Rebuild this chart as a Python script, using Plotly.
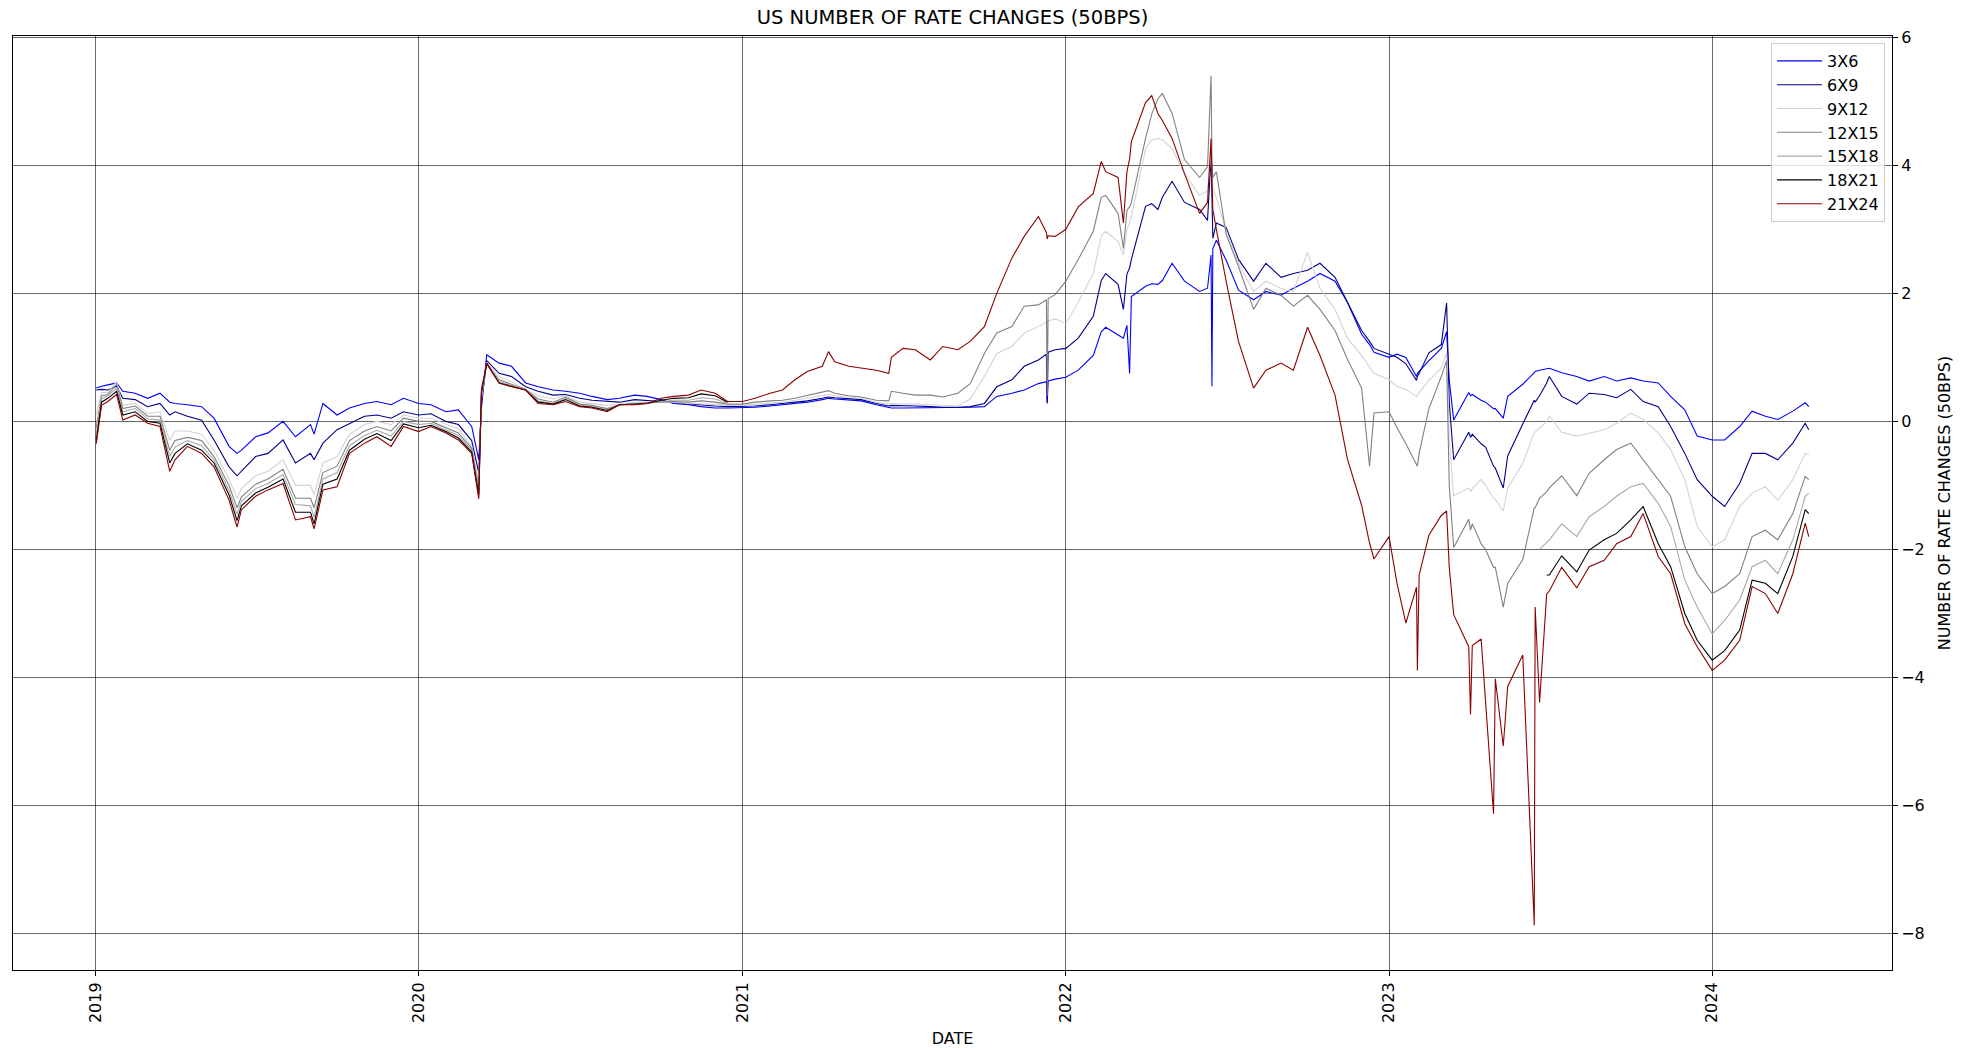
import plotly.graph_objects as go

# ---------------- data ----------------
DATES_2019 = ["2019-01-02","2019-01-08","2019-01-15","2019-01-25","2019-02-01","2019-02-15","2019-03-01",
              "2019-03-15","2019-03-26","2019-04-01","2019-04-15","2019-05-01","2019-05-15","2019-06-01",
              "2019-06-10","2019-06-15","2019-07-01","2019-07-15","2019-08-01","2019-08-15","2019-09-01",
              "2019-09-05","2019-09-15","2019-10-01","2019-10-15","2019-11-01","2019-11-15","2019-12-01",
              "2019-12-15"]
DATES_2020 = ["2020-01-01","2020-01-15","2020-02-01","2020-02-15","2020-03-01","2020-03-09","2020-03-12",
              "2020-03-18","2020-04-01","2020-04-15","2020-05-01","2020-05-15","2020-06-01","2020-06-15",
              "2020-07-01","2020-07-15","2020-08-01","2020-08-15","2020-09-01","2020-09-15","2020-10-01",
              "2020-10-15","2020-11-01","2020-11-15","2020-12-01","2020-12-15"]
DATES_2021 = ["2021-01-01","2021-01-15","2021-02-01","2021-02-15","2021-03-01","2021-03-15","2021-04-01",
              "2021-04-08","2021-04-15","2021-05-01","2021-05-15","2021-06-01","2021-06-15","2021-06-18",
              "2021-07-01","2021-07-15","2021-08-01","2021-08-15","2021-09-01","2021-09-15","2021-10-01",
              "2021-10-15","2021-11-01","2021-11-15","2021-12-01","2021-12-10","2021-12-11","2021-12-12",
              "2021-12-20"]
DATES_2022 = ["2022-01-01","2022-01-15","2022-02-01","2022-02-10","2022-02-15","2022-03-01","2022-03-07",
              "2022-03-11","2022-03-14","2022-03-16","2022-04-01","2022-04-08","2022-04-15","2022-04-20",
              "2022-05-01","2022-05-15","2022-06-01","2022-06-10","2022-06-14","2022-06-15","2022-06-16",
              "2022-06-20","2022-07-01","2022-07-15","2022-08-01","2022-08-15","2022-09-01","2022-09-15",
              "2022-10-01","2022-10-15","2022-11-01","2022-11-15","2022-12-01","2022-12-10","2022-12-15"]
DATES_2023 = ["2023-01-01","2023-01-10","2023-01-20","2023-02-01","2023-02-02","2023-02-04","2023-02-15",
              "2023-03-01","2023-03-07","2023-03-10","2023-03-15","2023-04-01","2023-04-03","2023-04-05",
              "2023-04-15","2023-04-20","2023-04-29","2023-05-01","2023-05-10","2023-05-15","2023-06-01",
              "2023-06-14","2023-06-15","2023-06-20","2023-06-28","2023-07-01","2023-07-15","2023-08-01",
              "2023-08-15","2023-09-01","2023-09-15","2023-10-01","2023-10-15","2023-11-01","2023-11-15",
              "2023-12-01","2023-12-15"]
DATES_2024 = ["2024-01-01","2024-01-15","2024-02-01","2024-02-15","2024-03-01","2024-03-15","2024-04-01",
              "2024-04-15","2024-04-19"]
DATES = DATES_2019 + DATES_2020 + DATES_2021 + DATES_2022 + DATES_2023 + DATES_2024

S_3X6 = ([0.52, 0.55, 0.57, 0.60, 0.47, 0.44, 0.36, 0.44, 0.30, 0.28, 0.26, 0.23, 0.05, -0.39, -0.50, -0.45,
          -0.24, -0.18, 0.00, -0.24, -0.05, -0.20, 0.28, 0.10, 0.21, 0.28, 0.31, 0.26, 0.36]
         + [0.28, 0.26, 0.15, 0.18, -0.08, -0.60, 0.20, 1.04, 0.91, 0.86, 0.60, 0.54, 0.49, 0.47, 0.44, 0.39,
            0.34, 0.36, 0.41, 0.39, 0.34, 0.28, 0.26, 0.23, 0.21, 0.21]
         + [0.21, 0.22, 0.24, 0.26, 0.28, 0.30, 0.34, 0.36, 0.35, 0.34, 0.32, 0.26, 0.21, 0.21, 0.21, 0.21,
            0.21, 0.21, 0.21, 0.22, 0.23, 0.39, 0.44, 0.49, 0.59, 0.62, 0.28, 0.63, 0.66]
         + [0.69, 0.80, 1.03, 1.40, 1.47, 1.35, 1.30, 1.50, 0.75, 1.95, 2.11, 2.15, 2.14, 2.20, 2.47, 2.19,
            2.03, 2.08, 2.60, 0.55, 2.70, 2.83, 2.52, 2.05, 1.90, 2.03, 1.97, 2.08, 2.19, 2.31, 2.19, 1.86,
            1.36, 1.20, 1.08]
         + [1.00, 1.05, 1.00, 0.70, 0.75, 0.78, 0.95, 1.14, 1.40, 0.64, 0.02, 0.45, 0.40, 0.42, 0.33, 0.30,
            0.20, 0.20, 0.05, 0.39, 0.58, 0.76, 0.78, 0.80, 0.83, 0.83, 0.76, 0.70, 0.63, 0.70, 0.63, 0.68,
            0.63, 0.60, 0.39, 0.18, -0.23]
         + [-0.29, -0.29, -0.08, 0.16, 0.08, 0.03, 0.16, 0.29, 0.23])

S_6X9 = ([0.49, 0.50, 0.49, 0.55, 0.36, 0.34, 0.23, 0.28, 0.10, 0.15, 0.08, 0.02, -0.29, -0.71, -0.85, -0.78,
          -0.55, -0.50, -0.29, -0.65, -0.50, -0.60, -0.34, -0.13, -0.03, 0.08, 0.10, 0.05, 0.15]
         + [0.10, 0.12, 0.00, -0.05, -0.30, -0.80, 0.30, 0.95, 0.75, 0.70, 0.54, 0.47, 0.41, 0.42, 0.36, 0.33,
            0.31, 0.30, 0.34, 0.33, 0.31, 0.29, 0.27, 0.25, 0.24, 0.23]
         + [0.23, 0.24, 0.26, 0.28, 0.30, 0.32, 0.36, 0.38, 0.37, 0.36, 0.34, 0.28, 0.24, 0.25, 0.25, 0.24,
            0.23, 0.22, 0.22, 0.23, 0.28, 0.54, 0.65, 0.86, 0.96, 1.05, 0.30, 1.08, 1.12]
         + [1.14, 1.30, 1.64, 2.20, 2.31, 2.14, 1.75, 2.30, 2.40, 2.53, 3.36, 3.40, 3.31, 3.50, 3.75, 3.42,
            3.31, 3.14, 4.14, 3.50, 2.86, 3.10, 3.03, 2.53, 2.19, 2.47, 2.25, 2.31, 2.36, 2.47, 2.25, 1.86,
            1.42, 1.25, 1.14]
         + [1.05, 1.00, 0.90, 0.64, 0.70, 0.75, 1.07, 1.20, 1.85, 0.30, -0.60, -0.17, -0.25, -0.20, -0.35,
            -0.40, -0.70, -0.73, -1.04, -0.54, -0.04, 0.33, 0.30, 0.40, 0.60, 0.70, 0.39, 0.27, 0.44, 0.42,
            0.37, 0.50, 0.31, 0.23, -0.08, -0.50, -0.91]
         + [-1.17, -1.33, -0.97, -0.50, -0.50, -0.60, -0.34, -0.03, -0.13])

S_9X12 = ([0.10, 0.45, 0.45, 0.62, 0.25, 0.28, 0.12, 0.15, -0.30, -0.15, -0.15, -0.20, -0.45, -0.90, -1.20,
           -1.05, -0.85, -0.78, -0.60, -1.00, -1.00, -1.15, -0.65, -0.55, -0.20, -0.05, 0.00, -0.05, 0.10]
          + [0.05, 0.05, -0.05, -0.12, -0.38, -0.95, 0.35, 0.92, 0.70, 0.62, 0.50, 0.40, 0.35, 0.40, 0.30,
             0.28, 0.25, 0.27, 0.30, 0.30, 0.30, 0.30, 0.28, 0.28, 0.27, 0.25]
          + [0.25, 0.27, 0.29, 0.30, 0.33, 0.36, 0.40, 0.42, 0.40, 0.38, 0.36, 0.30, 0.27, 0.28, 0.28, 0.27,
             0.26, 0.25, 0.24, 0.35, 0.70, 1.06, 1.17, 1.38, 1.48, 1.55, 1.00, 1.57, 1.60]
          + [1.53, 1.86, 2.31, 2.90, 2.97, 2.81, 2.60, 3.00, 3.10, 3.20, 4.26, 4.40, 4.42, 4.40, 4.26, 3.87,
             3.53, 3.60, 4.20, 3.90, 3.64, 3.50, 2.97, 2.47, 2.03, 2.19, 2.08, 2.03, 2.64, 2.08, 1.75, 1.30,
             1.03, 0.85, 0.75]
          + [0.65, 0.55, 0.50, 0.39, 0.40, 0.45, 0.64, 0.83, 1.07, -0.30, -1.16, -1.04, -1.10, -1.05, -0.91,
             -1.00, -1.20, -1.22, -1.40, -1.04, -0.66, -0.17, -0.17, -0.10, 0.00, 0.08, -0.17, -0.23, -0.18,
             -0.13, -0.03, 0.13, 0.03, -0.18, -0.44, -0.91, -1.64]
          + [-1.96, -1.85, -1.33, -1.12, -1.02, -1.23, -0.91, -0.50, -0.52])

S_12X15 = ([-0.10, 0.40, 0.42, 0.58, 0.20, 0.24, 0.08, 0.08, -0.45, -0.30, -0.25, -0.30, -0.55, -1.00, -1.35,
            -1.18, -0.98, -0.90, -0.75, -1.20, -1.20, -1.35, -0.80, -0.70, -0.30, -0.15, -0.08, -0.15, 0.05]
           + [0.00, 0.00, -0.10, -0.18, -0.42, -1.05, 0.40, 0.90, 0.65, 0.58, 0.50, 0.35, 0.30, 0.38, 0.27,
              0.25, 0.20, 0.26, 0.28, 0.29, 0.30, 0.31, 0.30, 0.32, 0.30, 0.27]
           + [0.27, 0.30, 0.32, 0.33, 0.36, 0.40, 0.45, 0.48, 0.44, 0.40, 0.38, 0.33, 0.32, 0.47, 0.44, 0.41,
              0.41, 0.38, 0.44, 0.59, 1.06, 1.38, 1.48, 1.80, 1.82, 1.90, 0.40, 1.92, 1.98]
           + [2.19, 2.53, 2.97, 3.50, 3.53, 3.25, 2.70, 3.30, 3.35, 3.42, 4.42, 4.80, 5.04, 5.12, 4.81, 4.09,
              3.81, 3.98, 5.40, 4.10, 3.81, 3.90, 2.92, 2.42, 1.75, 2.08, 1.97, 1.80, 1.97, 1.75, 1.42, 0.97,
              0.52, -0.70, 0.13]
           + [0.15, -0.10, -0.35, -0.66, -0.70, -0.50, 0.20, 0.70, 0.95, -1.00, -1.97, -1.53, -1.70, -1.60,
              -1.91, -2.00, -2.28, -2.28, -2.90, -2.53, -2.16, -1.35, -1.35, -1.20, -1.10, -1.04, -0.85, -1.16,
              -0.81, -0.60, -0.44, -0.34, -0.60, -0.91, -1.17, -1.96, -2.38]
           + [-2.69, -2.58, -2.38, -1.80, -1.70, -1.85, -1.44, -0.86, -0.91])

S_15X18 = ([-0.20, 0.35, 0.40, 0.52, 0.15, 0.20, 0.04, 0.02, -0.55, -0.40, -0.30, -0.38, -0.60, -1.08, -1.45,
            -1.25, -1.05, -0.97, -0.83, -1.30, -1.32, -1.50, -0.90, -0.80, -0.38, -0.22, -0.14, -0.23, 0.00]
           + [-0.05, -0.03, -0.13, -0.22, -0.45, -1.10, 0.42, 0.90, 0.62, 0.56, 0.50, 0.32, 0.28, 0.36, 0.25,
              0.23, 0.18, 0.26, 0.27, 0.28, 0.31, 0.33, 0.33, 0.37, 0.35, 0.28]
           + [None] * 29
           + [None] * 35
           + [None] * 23
           + [-2.00, -1.90, -1.85, -1.60, -1.80, -1.49, -1.33, -1.17, -1.02, -0.97, -1.28, -1.64, -2.48, -2.90]
           + [-3.32, -3.11, -2.79, -2.27, -2.17, -2.38, -1.85, -1.17, -1.12])

S_18X21 = ([-0.30, 0.30, 0.36, 0.47, 0.10, 0.15, 0.00, -0.03, -0.65, -0.50, -0.35, -0.45, -0.65, -1.15, -1.55,
            -1.32, -1.12, -1.03, -0.90, -1.42, -1.42, -1.60, -0.98, -0.90, -0.45, -0.28, -0.19, -0.30, -0.04]
           + [-0.10, -0.06, -0.16, -0.26, -0.48, -1.15, 0.45, 0.90, 0.60, 0.55, 0.49, 0.30, 0.27, 0.34, 0.24,
              0.22, 0.17, 0.26, 0.27, 0.28, 0.33, 0.36, 0.37, 0.43, 0.40, 0.30]
           + [None] * 29
           + [None] * 35
           + [None] * 24
           + [-2.40, -2.40, -2.10, -2.35, -2.01, -1.85, -1.75, -1.54, -1.33, -1.91, -2.27, -3.00, -3.42]
           + [-3.73, -3.58, -3.26, -2.48, -2.53, -2.69, -2.11, -1.38, -1.44])

S_21X24 = ([-0.35, 0.25, 0.31, 0.42, 0.02, 0.10, -0.03, -0.08, -0.78, -0.60, -0.39, -0.50, -0.71, -1.23, -1.65,
            -1.38, -1.17, -1.07, -0.97, -1.54, -1.49, -1.68, -1.07, -1.02, -0.50, -0.34, -0.24, -0.39, -0.08]
           + [-0.16, -0.08, -0.18, -0.29, -0.50, -1.21, 0.50, 0.91, 0.60, 0.54, 0.49, 0.28, 0.26, 0.31, 0.23,
              0.21, 0.15, 0.26, 0.26, 0.28, 0.36, 0.39, 0.41, 0.49, 0.44, 0.31]
           + [0.31, 0.36, 0.44, 0.49, 0.65, 0.78, 0.86, 1.09, 0.93, 0.86, 0.83, 0.80, 0.75, 1.00, 1.14, 1.12,
              0.96, 1.17, 1.12, 1.25, 1.48, 2.00, 2.55, 2.89, 3.20, 2.95, 2.85, 2.90, 2.89]
           + [3.00, 3.35, 3.56, 4.06, 3.90, 3.81, 3.10, 3.90, 4.10, 4.37, 4.98, 5.09, 4.81, 4.70, 4.42, 3.87,
              3.25, 3.42, 4.42, 3.80, 3.31, 3.00, 2.19, 1.25, 0.52, 0.80, 0.91, 0.80, 1.47, 1.03, 0.41, -0.59,
              -1.31, -1.90, -2.15]
           + [-1.80, -2.53, -3.15, -2.59, -3.89, -2.40, -1.78, -1.47, -1.40, -2.28, -3.02, -3.52, -4.58, -3.50,
              -3.40, -4.39, -6.13, -4.02, -5.07, -4.14, -3.65, -7.87, -2.90, -4.39, -2.70, -2.65, -2.28, -2.60,
              -2.27, -2.17, -1.91, -1.80, -1.44, -2.11, -2.38, -3.16, -3.52]
           + [-3.89, -3.73, -3.42, -2.58, -2.69, -3.00, -2.38, -1.59, -1.80])

SERIES_NAMES = ["3X6", "6X9", "9X12", "12X15", "15X18", "18X21", "21X24"]
SERIES_VALUES = [S_3X6, S_6X9, S_9X12, S_12X15, S_15X18, S_18X21, S_21X24]
SERIES_COLORS = ["blue", "darkblue", "lightgray", "gray", "darkgray", "black", "darkred"]

YEAR_TICKS = ["2019-01-01", "2020-01-01", "2021-01-01", "2022-01-01", "2023-01-01", "2024-01-01"]
YEAR_LABELS = ["2019", "2020", "2021", "2022", "2023", "2024"]
Y_TICKS = [-8, -6, -4, -2, 0, 2, 4, 6]

# ---------------- figure ----------------
fig = go.Figure()
for name, vals, col in zip(SERIES_NAMES, SERIES_VALUES, SERIES_COLORS):
    assert len(vals) == len(DATES), name
    fig.add_trace(go.Scatter(x=DATES, y=vals, name=name, mode="lines",
                             line=dict(color=col, width=1.1), connectgaps=False))

GRID = "rgba(0,0,0,0.6)"
FONT = "DejaVu Sans, Verdana, sans-serif"

fig.update_layout(
    width=1962, height=1048,
    margin=dict(l=12.5, r=70, t=36, b=78),
    paper_bgcolor="white", plot_bgcolor="white",
    font=dict(family=FONT, size=16, color="black"),
    title=dict(text="US NUMBER OF RATE CHANGES (50BPS)", x=0.5, xref="paper", xanchor="center",
               y=1 - 17 / 1048, yref="container", yanchor="middle",
               font=dict(family=FONT, size=19.5, color="black")),
    showlegend=True,
    legend=dict(x=0.9963, y=0.9925, xanchor="right", yanchor="top",
                bgcolor="rgba(255,255,255,0.8)", bordercolor="#cccccc", borderwidth=1,
                itemwidth=45,
                font=dict(family=FONT, size=16, color="black"), tracegroupgap=0),
    xaxis=dict(type="date", range=["2018-09-30", "2024-07-22"],
               tickmode="array", tickvals=YEAR_TICKS, ticktext=YEAR_LABELS, tickangle=-90,
               ticks="outside", ticklen=5, tickcolor="black", tickwidth=1,
               showgrid=True, gridcolor=GRID, gridwidth=1,
               showline=True, linecolor="black", linewidth=1, mirror=True, zeroline=False,
               automargin=False,
               title=dict(text="DATE", font=dict(family=FONT, size=16, color="black"), standoff=10)),
    yaxis=dict(side="right", range=[-8.57, 6.02],
               tickmode="array", tickvals=Y_TICKS,
               ticks="outside", ticklen=5, tickcolor="black", tickwidth=1,
               showgrid=True, gridcolor=GRID, gridwidth=1,
               showline=True, linecolor="black", linewidth=1, mirror=True, zeroline=False,
               automargin=False,
               title=dict(text="NUMBER OF RATE CHANGES (50BPS)",
                          font=dict(family=FONT, size=16, color="black"), standoff=15)),
)

fig.write_html("out.html", config={"displayModeBar": False},
               post_script="document.body.style.margin='0px';document.body.style.overflow='hidden';")
